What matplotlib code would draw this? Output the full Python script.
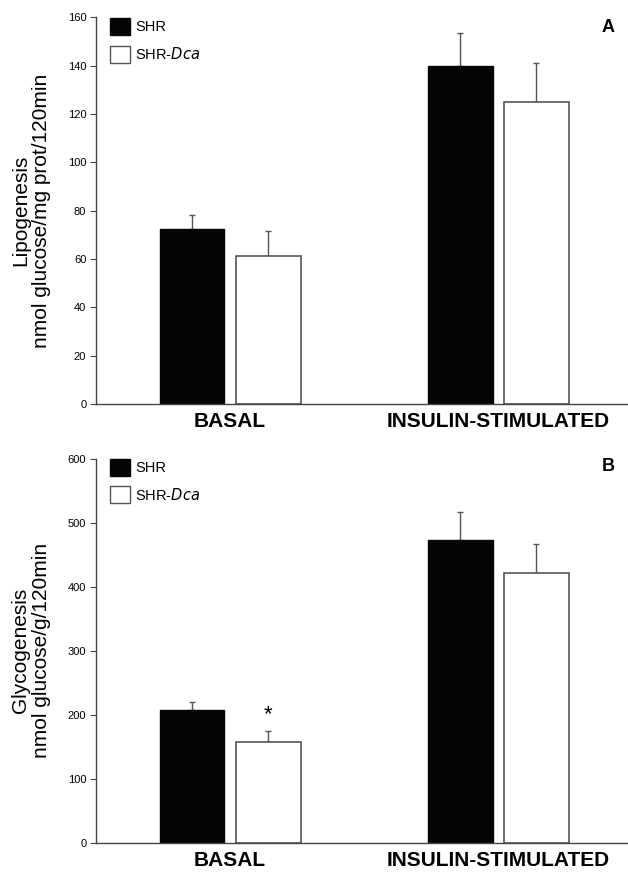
import numpy as np
import matplotlib
matplotlib.use("Agg")
import matplotlib.pyplot as plt
from matplotlib.patches import Patch

plt.rcParams['font.family'] = ['Liberation Sans', 'DejaVu Sans']

groups = ["BASAL", "INSULIN-STIMULATED"]
series = ["SHR", "SHR-$\\it{Dca}$"]

# panel A - lipogenesis
lipo_shr = [72.3, 139.9]
lipo_shr_err = [5.9, 13.5]
lipo_dca = [61.4, 124.8]
lipo_dca_err = [10.3, 16.3]

# panel B - glycogenesis
glyco_shr = [207, 473]
glyco_shr_err = [13, 44]
glyco_dca = [158, 422]
glyco_dca_err = [17, 45]

W, H = 628, 872
fig = plt.figure(figsize=(W / 100, H / 100), dpi=100)
axA = fig.add_axes([96 / W, 1 - 404 / H, 532 / W, 386.7 / H])
axB = fig.add_axes([96 / W, 1 - 842.7 / H, 532 / W, 384 / H])

x = np.arange(len(groups))
w = 0.2425
off = 0.1418
edge = "#555555"


def draw(ax, shr, shr_err, dca, dca_err, ymax, step, ylabel, letter, letter_y, leg_y):
    ax.bar(x - off, shr, w, color="#050505", edgecolor="#050505", linewidth=1, zorder=2)
    ax.bar(x + off, dca, w, color="white", edgecolor=edge, linewidth=1.2, zorder=2)
    ax.errorbar(x - off, shr, yerr=[np.zeros(2), shr_err], fmt="none",
                ecolor="#555555", elinewidth=1, capsize=2, capthick=1, zorder=1)
    ax.errorbar(x + off, dca, yerr=[np.zeros(2), dca_err], fmt="none",
                ecolor="#555555", elinewidth=1, capsize=2, capthick=1, zorder=1)
    ax.set_xlim(-0.5, 1.485)
    ax.set_ylim(0, ymax)
    ax.set_yticks(np.arange(0, ymax + 1, step))
    ax.tick_params(axis="y", labelsize=8, length=4, width=0.8, color="#444444", pad=3)
    ax.set_xticks(x)
    ax.set_xticklabels(groups, fontsize=15, fontweight="bold")
    ax.tick_params(axis="x", length=0, pad=6)
    for s in ["top", "right"]:
        ax.spines[s].set_visible(False)
    for s in ["left", "bottom"]:
        ax.spines[s].set_color("#444444")
        ax.spines[s].set_linewidth(1)
    pos = ax.get_position()
    fig.text(31 / W, (pos.y0 + pos.y1) / 2, ylabel, rotation=90, ha="center",
             va="center", multialignment="center", fontsize=15, linespacing=1.15)
    ax.text(0.975, letter_y, letter, transform=ax.transAxes, fontsize=13,
            fontweight="bold", ha="right", va="center")
    handles = [Patch(facecolor="#050505", edgecolor="#050505"),
               Patch(facecolor="white", edgecolor=edge)]
    ax.legend(handles, series, loc="upper left", frameon=False, fontsize=10.5,
              handlelength=1.35, handleheight=1.4, handletextpad=0.4,
              labelspacing=0.75, borderaxespad=0, borderpad=0,
              bbox_to_anchor=(0.026, leg_y))


draw(axA, lipo_shr, lipo_shr_err, lipo_dca, lipo_dca_err, 160, 20,
     "Lipogenesis\nnmol glucose/mg prot/120min", "A", 0.973, 0.998)
draw(axB, glyco_shr, glyco_shr_err, glyco_dca, glyco_dca_err, 600, 100,
     "Glycogenesis\nnmol glucose/g/120min", "B", 0.98, 1.0)

axB.text(0 + off, glyco_dca[0] + glyco_dca_err[0] + 8, "*", ha="center",
         va="bottom", fontsize=16)

fig.savefig("out.png", dpi=100)
